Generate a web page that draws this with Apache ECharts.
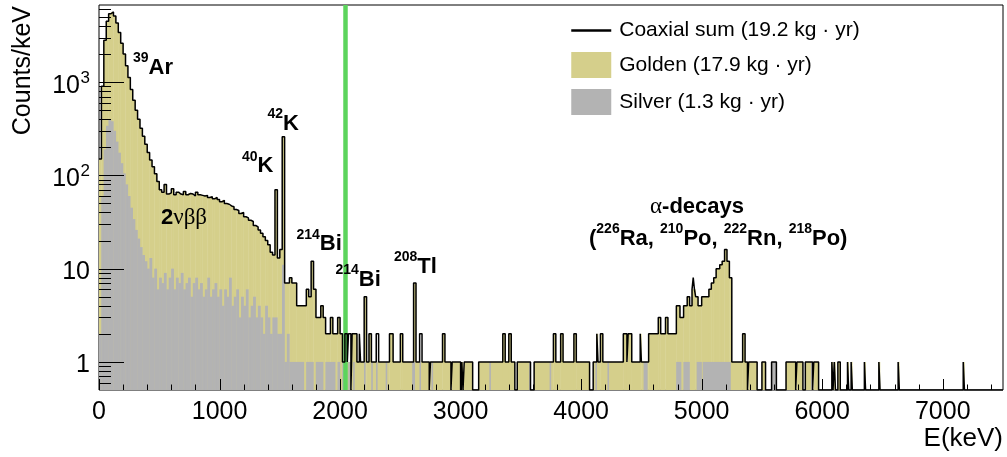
<!DOCTYPE html>
<html>
<head>
<meta charset="utf-8">
<script src="https://cdn.jsdelivr.net/npm/echarts@6/dist/echarts.min.js"></script>
<style>
html,body{margin:0;padding:0;background:#fff;}
#chart{width:1007px;height:457px;}
</style>
</head>
<body>
<div id="chart"></div>
<script>
// ---------------- DATA ----------------
// 0 - 2000 keV, 20 keV bins: coaxial sum (golden is stacked on silver, so its top follows the sum)
const lowBinWidth = 20;
const sumLow = [
  150, 900, 2800, 4500, 5400, 5650, 5100, 4300, 3400, 2600,
  2000, 1500, 1120, 830, 640, 500, 400, 320, 262, 215,
  176, 146, 124, 104, 86, 70, 66, 80, 63, 65,
  72, 62, 66, 63, 62, 67, 62, 64, 63, 60,
  66, 62, 61, 60, 61, 58, 59, 56, 58, 55,
  52, 54, 50, 49, 47, 46, 43, 42, 39, 40,
  36, 35, 33, 32, 29, 28, 26, 24, 22, 20,
  18, 15, 14, 70, 13, 16, 260, 7, 7, 8,
  7, 7, 4, 4, 4, 4, 6, 5, 12, 6,
  3, 3, 4, 3, 2, 2, 3, 2, 2, 3
];
const silverLow = [
  2, 60, 190, 340, 400, 380, 300, 230, 175, 135,
  105, 80, 60, 45, 34, 26, 21, 17, 14, 12,
  10, 13, 8, 10, 6, 8, 7, 9, 6, 8,
  10, 6, 8, 7, 9, 6, 7, 8, 5, 7,
  8, 6, 7, 5, 6, 8, 5, 6, 7, 5,
  6, 4, 6, 5, 8, 4, 5, 6, 3, 5,
  4, 6, 3, 4, 5, 3, 4, 3, 2, 4,
  3, 2, 3, 3, 2, 2, 11, 1, 2, 1,
  1, 1, 1, 1, 1, 0, 1, 1, 1, 0,
  1, 1, 1, 0, 1, 1, 1, 1, 0, 1
];
// 2000 - 7500 keV: sparse counts as [fromKeV, toKeV, counts]
const goldenHigh = [
  [2000,2020,2],[2020,2090,1],[2100,2140,2],[2140,2200,1],[2200,2220,5],[2220,2240,1],
  [2240,2260,2],[2260,2410,1],[2410,2440,2],[2440,2500,1],[2500,2520,2],[2520,2610,1],
  [2610,2630,7],[2630,2740,1],[2750,2850,1],[2850,2870,2],[2870,2920,1],[2930,3000,1],
  [3010,3020,1],[3030,3100,1],[3150,3350,1],[3350,3370,2],[3370,3400,1],[3400,3420,2],
  [3420,3450,1],[3470,3580,1],[3610,3770,1],[3770,3790,2],[3790,3830,1],[3830,3850,2],
  [3850,3940,1],[3940,3960,2],[3960,4070,1],[4100,4130,1],[4130,4140,2],[4140,4160,1],
  [4160,4180,2],[4180,4350,1],[4350,4380,2],[4380,4390,1],[4390,4420,2],[4420,4490,1],
  [4490,4500,2],[4500,4560,1],[4560,4640,2],[4640,4660,3],[4660,4700,2],[4700,4720,3],
  [4720,4790,2],[4790,4820,4],[4820,4850,3],[4850,4880,4],[4880,4900,5],[4900,4920,4],
  [4920,4950,6],[4950,4970,5],[4970,5000,4],[5000,5060,5],[5060,5080,6],[5080,5100,7],
  [5100,5120,8],[5120,5150,10],[5150,5170,11],[5170,5190,12],[5190,5210,16],[5210,5230,12],
  [5230,5250,8],[5250,5340,1],[5340,5360,2],[5360,5380,1],[5390,5460,1],[5500,5530,1],
  [5700,5780,1],[5790,5840,1],[5860,5910,1],[5930,5970,1],[6080,6090,1],[6100,6110,1],
  [6130,6150,1],[6210,6220,1],[6240,6250,1],[6350,6360,1],[6470,6480,1],[6630,6640,1],
  [7170,7180,1]
];
const silverHigh = [
  [2020,2040,1],[2070,2080,1],[2110,2120,1],[2200,2210,1],[2260,2270,1],[2300,2310,1],
  [2380,2390,1],[2600,2620,1],[2660,2670,1],[2760,2770,1],[3240,3250,1],[3570,3580,1],
  [3740,3750,1],[4120,4130,1],[4220,4230,1],[4520,4550,1],[4790,4830,1],[4850,4900,1],
  [4960,5000,1],[5010,5240,1],[5580,5620,1],[5910,5920,1]
];
// bins where the coaxial-sum outline rises above the golden fill
const sumAboveGoldenHigh = [
  [2040,2060,2],[2070,2090,2],[2160,2170,2],[2300,2320,2],[2660,2680,2],[4930,4940,8]
];
const qbbKeV = 2039;
const xMajorTicks = [0, 1000, 2000, 3000, 4000, 5000, 6000, 7000];
const yMajorTicks = [1, 10, 100, 1000];
const yMinorTicks = [0.6,0.7,0.8,0.9, 2,3,4,5,6,7,8,9, 20,30,40,50,60,70,80,90,
                     200,300,400,500,600,700,800,900, 2000,3000,4000,5000,6000];
const xMinorStep = 200;

// ---------------- BUILD ----------------
const CELL = 10, EMAX = 7500, YMIN = 0.5, YMAX = 6700;
const nCells = EMAX / CELL;
const golden = new Array(nCells).fill(0);
const silver = new Array(nCells).fill(0);
const total = new Array(nCells).fill(0);
const lowEnd = sumLow.length * lowBinWidth;
for (let i = 0; i < nCells; i++) {
  const e = i * CELL;
  if (e < lowEnd) {
    const k = Math.floor(e / lowBinWidth);
    golden[i] = sumLow[k]; total[i] = sumLow[k]; silver[i] = silverLow[k];
  }
}
function paint(arr, segs) {
  segs.forEach(([a, b, v]) => { for (let e = a; e < b; e += CELL) arr[Math.round(e / CELL)] = v; });
}
paint(golden, goldenHigh);
paint(silver, silverHigh);
for (let i = lowEnd / CELL; i < nCells; i++) total[i] = Math.max(golden[i], silver[i]);
paint(total, sumAboveGoldenHigh);

function runs(arr) {
  const out = []; let s = 0;
  for (let i = 1; i <= arr.length; i++) {
    if (i === arr.length || arr[i] !== arr[s]) { out.push([s * CELL, i * CELL, arr[s]]); s = i; }
  }
  return out;
}
const xMinorTicks = [];
for (let v = xMinorStep; v < EMAX; v += xMinorStep) if (v % 1000 !== 0) xMinorTicks.push(v);

const GOLD = '#d5cf8b', SILVER = '#b3b3b3', GREEN = '#5cd45c';
const FONT = 'Liberation Sans, Arial, Helvetica, sans-serif';

function fillSeries(name, arr, color, z) {
  return {
    type: 'custom', name, coordinateSystem: 'cartesian2d', z, clip: true, silent: true,
    itemStyle: { color },
    encode: { x: [0, 1], y: 2 },
    data: runs(arr).filter(r => r[2] > 0),
    renderItem(params, api) {
      const p0 = api.coord([api.value(0), api.value(2)]);
      const p1 = api.coord([api.value(1), YMIN]);
      return { type: 'rect', shape: { x: p0[0] - 0.2, y: p0[1], width: p1[0] - p0[0] + 0.4, height: p1[1] - p0[1] },
               style: { fill: color } };
    }
  };
}

const sumRuns = runs(total);
const sumPoints = sumRuns.map(r => [r[0], Math.max(r[2], YMIN)]);
sumPoints.push([EMAX, sumPoints[sumPoints.length - 1][1]]);

const tickSeries = {
  type: 'custom', silent: true, z: 20, clip: false,
  encode: { x: 0, y: 1 },
  data: [
    ...xMajorTicks.map(v => [v, YMIN]),
    ...xMinorTicks.map(v => [v, YMIN]),
    ...yMajorTicks.map(v => [0, v]),
    ...yMinorTicks.map(v => [0, v])
  ],
  renderItem(params, api) {
    const i = params.dataIndex;
    const nxM = xMajorTicks.length, nxm = xMinorTicks.length, nyM = yMajorTicks.length;
    const p = api.coord([api.value(0), api.value(1)]);
    const st = { stroke: '#000', lineWidth: 1 };
    if (i < nxM + nxm) {
      const len = i < nxM ? 11 : 5.5;
      const x = Math.round(p[0]) + 0.5;
      return { type: 'line', shape: { x1: x, y1: p[1], x2: x, y2: p[1] - len }, style: st };
    }
    const major = i < nxM + nxm + nyM;
    const len = major ? 25 : 12;
    const y = Math.round(p[1]) + 0.5;
    const children = [{ type: 'line', shape: { x1: p[0], y1: y, x2: p[0] + len, y2: y }, style: st }];
    if (major) {
      const v = api.value(1);
      const ex = Math.round(Math.log10(v));
      const xr = p[0] - 9;
      if (ex <= 1) {
        children.push({ type: 'text', x: xr, y: p[1] + 3,
          style: { text: String(Math.round(v)), font: '25px ' + FONT, fill: '#000', align: 'right', verticalAlign: 'middle' } });
      } else {
        children.push({ type: 'text', x: xr, y: p[1] - 4,
          style: { text: String(ex), font: '17px ' + FONT, fill: '#000', align: 'right', verticalAlign: 'middle' } });
        children.push({ type: 'text', x: xr - 10, y: p[1] + 4,
          style: { text: '10', font: '25px ' + FONT, fill: '#000', align: 'right', verticalAlign: 'middle' } });
      }
    }
    return { type: 'group', children };
  }
};

const richStyles = {
  m: { fontFamily: FONT, fontSize: 22, fontWeight: 'bold', lineHeight: 32, color: '#000' },
  s: { fontFamily: FONT, fontSize: 14, fontWeight: 'bold', lineHeight: 14, verticalAlign: 'top', color: '#000' },
  g: { fontFamily: 'Liberation Serif, serif', fontSize: 23, lineHeight: 32, color: '#000' }
};
function label(text, x, yc) {
  return { type: 'text', x, y: yc - 16, silent: true, z: 30,
    style: { text, rich: richStyles, align: 'left', verticalAlign: 'top' } };
}

const chart = echarts.init(document.getElementById('chart'), null, { renderer: 'canvas' });
chart.setOption({
  animation: false,
  backgroundColor: '#fff',
  grid: { left: 99, right: 4, top: 5, bottom: 67, show: true, borderColor: '#000', borderWidth: 1, backgroundColor: 'transparent', containLabel: false },
  xAxis: {
    type: 'value', min: 0, max: EMAX, interval: 1000,
    axisLine: { show: false }, axisTick: { show: false }, splitLine: { show: false },
    axisLabel: { fontSize: 25, fontFamily: FONT, color: '#000', margin: 10, showMaxLabel: false,
                 formatter: v => String(v) }
  },
  yAxis: {
    type: 'log', logBase: 10, min: YMIN, max: YMAX,
    axisLine: { show: false }, axisTick: { show: false }, splitLine: { show: false },
    axisLabel: { show: false }
  },
  legend: {
    orient: 'vertical', left: 565, top: 15, itemWidth: 40, itemHeight: 26, itemGap: 11,
    selectedMode: false,
    textStyle: { fontSize: 21, fontFamily: FONT, color: '#000', padding: [0, 0, 0, 3] },
    data: [
      { name: 'Coaxial sum (19.2 kg · yr)', itemStyle: { opacity: 0 }, lineStyle: { width: 2.5, color: '#000' } },
      { name: 'Golden (17.9 kg · yr)', icon: 'rect' },
      { name: 'Silver (1.3 kg · yr)', icon: 'rect' }
    ]
  },
  graphic: [
    { type: 'text', x: 23, y: 6, rotation: Math.PI / 2, silent: true,
      style: { text: 'Counts/keV', font: '25px ' + FONT, fill: '#000', align: 'right', verticalAlign: 'middle' } },
    { type: 'text', x: 1003, y: 439, silent: true,
      style: { text: 'E(keV)', font: '26px ' + FONT, fill: '#000', align: 'right', verticalAlign: 'middle' } },
    label('{s|39}{m|Ar}', 133, 67.5),
    label('{s|42}{m|K}', 267.5, 123.5),
    label('{s|40}{m|K}', 242, 166),
    label('{m|2}{g|νββ}', 161, 218),
    label('{s|214}{m|Bi}', 296.5, 244),
    label('{s|214}{m|Bi}', 335.5, 279.5),
    label('{s|208}{m|Tl}', 394, 266.5),
    label('{g|α}{m|-decays}', 650, 207),
    label('{m|(}{s|226}{m|Ra, }{s|210}{m|Po, }{s|222}{m|Rn, }{s|218}{m|Po)}', 589, 238.5)
  ],
  series: [
    fillSeries('Golden (17.9 kg · yr)', golden, GOLD, 2),
    fillSeries('Silver (1.3 kg · yr)', silver, SILVER, 3),
    {
      type: 'line', name: 'Coaxial sum (19.2 kg · yr)', step: 'end', symbol: 'none', showSymbol: false,
      data: sumPoints, z: 5, silent: true,
      lineStyle: { color: '#000', width: 1.5 }, itemStyle: { color: '#000' },
      markLine: {
        silent: true, symbol: ['none', 'none'], label: { show: false }, animation: false,
        lineStyle: { color: GREEN, width: 4.5, type: 'solid' },
        data: [{ xAxis: qbbKeV }]
      }
    },
    tickSeries
  ]
});
</script>
</body>
</html>
